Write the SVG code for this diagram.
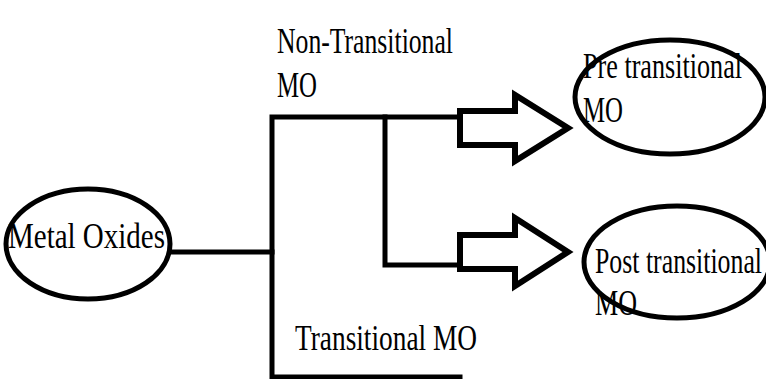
<svg xmlns="http://www.w3.org/2000/svg" width="766" height="379" viewBox="0 0 766 379">
<style>
.node{fill:#fff;stroke:#000;stroke-width:5}
.lbl{font-family:"Liberation Serif","Times New Roman",serif;font-size:36px;fill:#000}
.wire{fill:none;stroke:#000;stroke-width:5;stroke-linejoin:miter;stroke-linecap:square}
.barrow{fill:#fff;stroke:#000;stroke-width:6;stroke-linejoin:miter}
</style>
<rect width="766" height="379" fill="#fff"/>
<g id="connectors">
<line class="wire" x1="170" y1="252" x2="272" y2="252"/>
<polyline class="wire" points="455,117 272,117 272,377 460,377"/>
<polyline class="wire" points="385,117 385,265 460,265"/>
<polygon class="barrow" points="460,111 515,111 515,95 568,128 515,161 515,145 460,145"/>
<polygon class="barrow" points="460,235 515,235 515,218 568,252 515,286 515,269 460,269"/>
</g>
<g id="metal-oxides">
<ellipse class="node" cx="88" cy="244" rx="82" ry="55"/>
<text class="lbl" x="8" y="248" textLength="157" lengthAdjust="spacingAndGlyphs">Metal Oxides</text>
</g>
<g id="non-transitional-label">
<text class="lbl" x="277" y="53" textLength="176" lengthAdjust="spacingAndGlyphs">Non-Transitional</text>
<text class="lbl" x="277" y="97" textLength="40" lengthAdjust="spacingAndGlyphs">MO</text>
</g>
<g id="transitional-label">
<text class="lbl" x="295" y="350" textLength="182" lengthAdjust="spacingAndGlyphs">Transitional MO</text>
</g>
<g id="pre-transitional">
<ellipse class="node" cx="670" cy="97" rx="95" ry="57"/>
<text class="lbl" x="583" y="78" textLength="159" lengthAdjust="spacingAndGlyphs">Pre transitional</text>
<text class="lbl" x="583" y="122" textLength="40" lengthAdjust="spacingAndGlyphs">MO</text>
</g>
<g id="post-transitional">
<ellipse class="node" cx="677" cy="262" rx="93" ry="56"/>
<text class="lbl" x="595" y="273" textLength="167" lengthAdjust="spacingAndGlyphs">Post transitional</text>
<text class="lbl" x="595" y="315" textLength="42" lengthAdjust="spacingAndGlyphs">MO</text>
</g>
</svg>
